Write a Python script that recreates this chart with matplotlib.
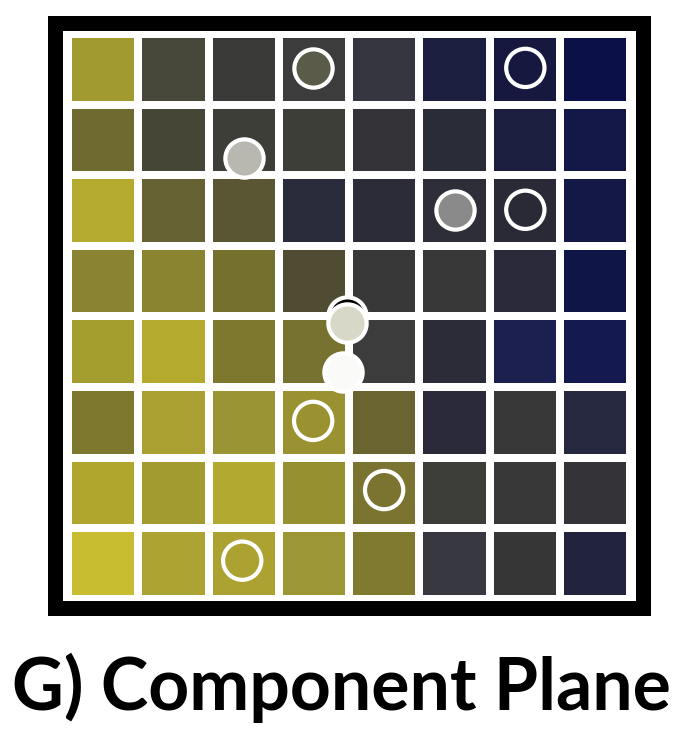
import matplotlib
matplotlib.use("Agg")
import matplotlib.pyplot as plt
from matplotlib.patches import Rectangle

# cell colours, row 0 = top row
row0 = ["#a09a30", "#48483a", "#3a3a38", "#3c3c3c", "#363640", "#1c1e40", "#161840", "#0c1048"]
row1 = ["#6e6a30", "#464636", "#3e3e38", "#3e3e38", "#343438", "#2a2c38", "#1c1e40", "#141848"]
row2 = ["#b4aa30", "#666234", "#5a5634", "#2a2c3c", "#2c2c38", "#2e2e38", "#2a2a36", "#141846"]
row3 = ["#8a8432", "#8a8430", "#76702e", "#504c34", "#383838", "#383838", "#2a2a3a", "#101548"]
row4 = ["#a49e2e", "#b4aa2e", "#7e782e", "#787230", "#3c3c3c", "#2c2c38", "#1c2050", "#141a50"]
row5 = ["#7e782e", "#aaa032", "#9a9434", "#9a9230", "#6a6430", "#2a2a3a", "#383838", "#262840"]
row6 = ["#b0a62e", "#a29c30", "#b2aa30", "#969030", "#7a7430", "#3c3c38", "#383838", "#343438"]
row7 = ["#c8bc30", "#aca432", "#aca232", "#9c9634", "#807a30", "#383840", "#363636", "#22243e"]
cell_colors = [row0, row1, row2, row3, row4, row5, row6, row7]

# hits on the map (grid units, x = column, y = row from top)
hit_x = [3.49, 6.51, 2.50, 5.51, 6.51, 3.97, 3.97, 3.91, 3.49, 4.50, 2.48]
hit_y = [0.48, 0.48, 1.76, 2.49, 2.49, 3.99, 4.09, 4.79, 5.48, 6.46, 7.46]
hit_face = ["#5b5b4a", "none", "#b8b8b0", "#8a8a8a", "none", "black",
            "#d8d8c8", "#fafaf8", "none", "none", "none"]
hit_edge = ["white"] * len(hit_x)

title = "G) Component Plane"

W, H = 687, 745
fig = plt.figure(figsize=(W / 100, H / 100), dpi=100)

# axes box sits on the centre line of the black frame
left, right, top, bottom = 54.5, 642.5, 22.5, 607.5
ax = fig.add_axes([left / W, 1 - bottom / H, (right - left) / W, (bottom - top) / H])
ax.set_facecolor("white")

px_x, px_y = 70.25, 70.6   # pixels per cell
x0, y0 = 68, 34            # pixel of grid origin
ax.set_xlim((left - x0) / px_x, (right - x0) / px_x)
ax.set_ylim((bottom - y0) / px_y, (top - y0) / px_y)

gap_x = 8 / px_x
gap_y = 8 / px_y
for r, row in enumerate(cell_colors):
    for c, col in enumerate(row):
        ax.add_patch(Rectangle((c + gap_x / 2, r + gap_y / 2), 1 - gap_x, 1 - gap_y,
                               facecolor=col, edgecolor="none"))

for x, y, fc, ec in zip(hit_x, hit_y, hit_face, hit_edge):
    ax.scatter([x], [y], s=760, facecolors=fc, edgecolors=ec, linewidths=3.0, zorder=3)

ax.set_xticks([])
ax.set_yticks([])
for sp in ax.spines.values():
    sp.set_linewidth(10.8)
    sp.set_color("black")
    sp.set_capstyle("projecting")

fig.text(0.5 * (12 + 670) / W, 1 - 710 / H, title, ha="center", va="baseline",
         fontsize=51.5, fontweight="bold", family="Lato")

fig.savefig("out.png", dpi=100)
